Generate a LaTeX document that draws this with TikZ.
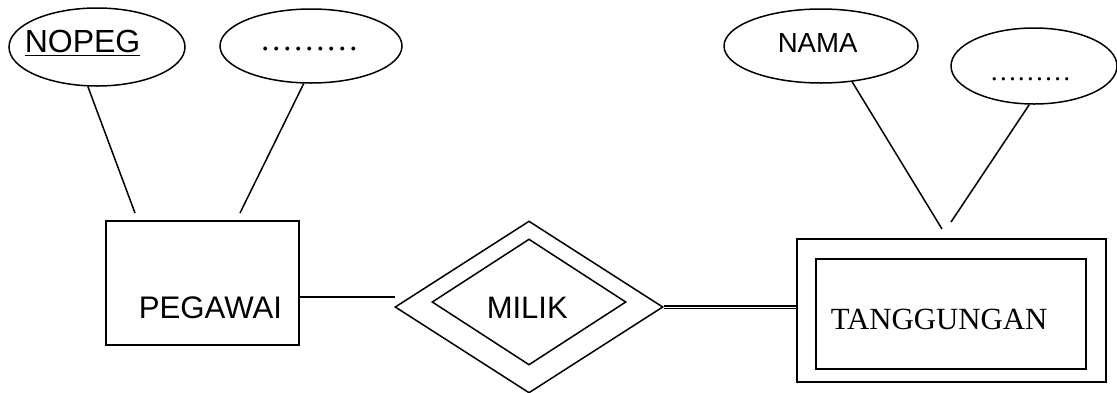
\documentclass[tikz,border=0pt]{standalone}
\usepackage{fontspec}
\setmainfont{Liberation Sans}
\newfontfamily\timesfont{Liberation Serif}
\usetikzlibrary{shapes.geometric}
\begin{document}
\begin{tikzpicture}[x=0.5pt,y=-0.5pt,line width=0.75pt,
        attr/.style={draw,ellipse,inner sep=0pt},
        ent/.style={draw,rectangle,inner sep=0pt},
        rel/.style={draw,diamond,inner sep=0pt},
        txt/.style={anchor=base west,inner sep=0pt}]
        \useasboundingbox (0,0) rectangle (1117,392);
        % attributes
        \node[attr,minimum width=88pt,minimum height=39pt] (nopeg) at (97,47) {};
        \node[attr,minimum width=91pt,minimum height=37pt] (lain1) at (311,46) {};
        \node[attr,minimum width=97pt,minimum height=37pt] (nama) at (821,46) {};
        \node[attr,minimum width=83pt,minimum height=38pt] (lain2) at (1034,66) {};
        \node[txt,font=\fontsize{16}{16}\selectfont] (nopegtext) at (24,52) {\underline{NOPEG}};
        \node[txt,font=\timesfont\fontsize{16.5}{16.5}\selectfont] (lain1text) at (259,50) {………};
        \node[txt,font=\fontsize{13.8}{13.8}\selectfont] (namatext) at (777,52) {NAMA};
        \node[txt,font=\timesfont\fontsize{13.6}{13.6}\selectfont] (lain2text) at (989,80) {………};
        % entities
        \node[ent,minimum width=96.5pt,minimum height=62pt] (pegawai) at (202.5,283) {};
        \node[txt,font=\fontsize{15.6}{15.6}\selectfont] (pegawaitext) at (138,318) {PEGAWAI};
        \node[ent,minimum width=154.5pt,minimum height=71.5pt] (tang) at (951.5,310.5) {};
        \node[ent,minimum width=135pt,minimum height=55pt] (tangin) at (951,314) {};
        \node[txt,font=\timesfont\fontsize{15.4}{15.4}\selectfont] (tangtext) at (830,329) {TANGGUNGAN};
        % relationship
        \node[rel,minimum width=134pt,minimum height=86pt] (milik) at (529,307) {};
        \node[rel,minimum width=97pt,minimum height=63pt] (milikin) at (529,302) {};
        \node[txt,font=\fontsize{15.5}{15.5}\selectfont] (miliktext) at (486,318) {MILIK};
        % free ends
        \coordinate (c1) at (135,213);
        \coordinate (c2) at (240,213);
        \coordinate (c3) at (942,229);
        \coordinate (c4) at (951,222);
        \coordinate (c5) at (395,297);
        \draw (nopeg.257) -- (c1);
        \draw (lain1.259) -- (c2);
        \draw (nama.311) -- (c3);
        \draw (lain2.263) -- (c4);
        \draw (c5 -| pegawai.east) -- (c5);
        \draw[line width=0.9pt,double,double distance=0.5pt] (milik.east) -- (milik.east -| tang.west);
\end{tikzpicture}
\end{document}
